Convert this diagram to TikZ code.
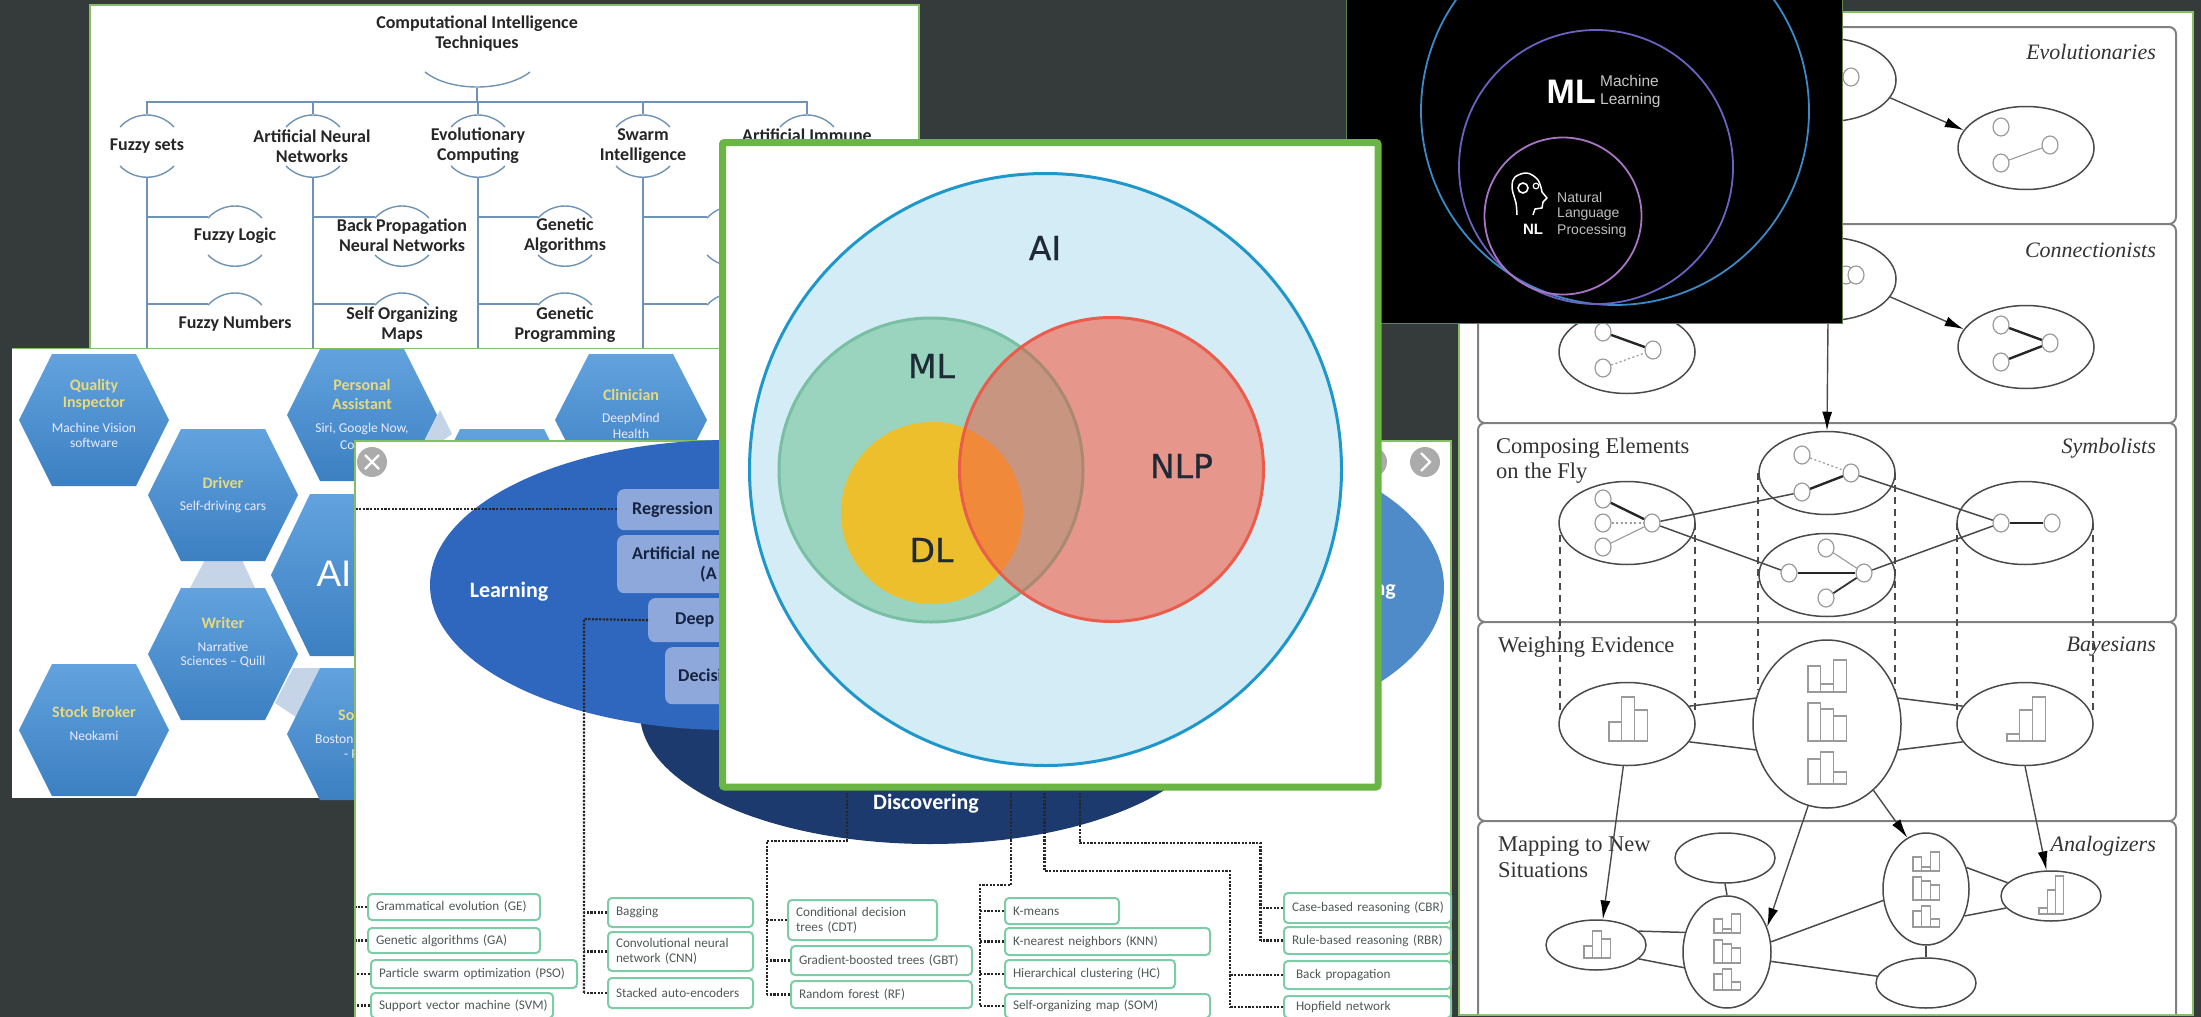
\documentclass[tikz,border=0pt]{standalone}
\usepackage{fontspec}
\usetikzlibrary{shapes.geometric,arrows.meta,calc}
\setmainfont{Carlito}
\newfontfamily\serf{Liberation Serif}
\newfontfamily\arl{Liberation Sans}
\newfontfamily\vfnt{DejaVu Sans}[RawFeature={embolden=0.6}]
\newcommand{\fsz}[1]{\fontsize{#1}{#1}\selectfont}
\definecolor{bgc}{HTML}{353A3A}
\definecolor{pgreen}{HTML}{86BE68}
\definecolor{sgreen}{HTML}{6BB544}
\definecolor{ciline}{HTML}{6E93B4}
\definecolor{hextop}{HTML}{62A2DE}
\definecolor{hexbot}{HTML}{3C80C2}
\definecolor{hexlink}{HTML}{C6D4E8}
\definecolor{hexy}{HTML}{E6D97E}
\definecolor{learn}{HTML}{2F67BF}
\definecolor{reason}{HTML}{4F8BC9}
\definecolor{disc}{HTML}{1C3A6E}
\definecolor{bbox}{HTML}{8EA8DC}
\definecolor{bbtxt}{HTML}{15233F}
\definecolor{gbox}{HTML}{7ECBA8}
\definecolor{gtxt}{HTML}{505858}
\definecolor{rln}{HTML}{4A4A4A}
\definecolor{rowln}{HTML}{808080}
\definecolor{circ}{HTML}{9A9A9A}
\definecolor{vtxt}{HTML}{1E2A35}
\definecolor{HTMLblue}{HTML}{3A8AC8}
\definecolor{HTMLpurple}{HTML}{6A62C0}
\definecolor{HTMLpink}{HTML}{A874C4}
\definecolor{HTMLvenn}{HTML}{D4ECF5}
\definecolor{HTMLvennb}{HTML}{1F97CB}
\definecolor{HTMLml}{HTML}{9AD4BF}
\definecolor{HTMLmlb}{HTML}{79BFA3}
\definecolor{HTMLdl}{HTML}{EDBF2C}
\definecolor{HTMLnlp}{HTML}{E7968C}
\definecolor{HTMLnlpb}{HTML}{EA5C4C}
\definecolor{HTMLmix}{HTML}{C79580}
\definecolor{HTMLmixb}{HTML}{A98A70}
\definecolor{HTMLorg}{HTML}{F08A3A}
\tikzset{
 panel/.style={fill=white,draw=pgreen,line width=2pt},
 cil/.style={draw=ciline,line width=1.4pt},
 citx/.style={font=\fsz{18}\bfseries,text=black!85,align=center,inner sep=0pt},
 hxh/.style={font=\fsz{16}\bfseries,text=hexy,align=center,inner sep=0pt},
 hxs/.style={font=\fsz{13.5},text=white!92!blue,align=center,inner sep=0pt},
 dsh/.style={draw=black!85,line width=2.2pt,dash pattern=on 2.2pt off 1.4pt},
 gboxst/.style={draw=gbox,line width=2pt,fill=white,rounded corners=4pt,font=\fsz{13.2},text=gtxt,align=left,inner sep=0pt,anchor=north west},
 bboxst/.style={fill=bbox,rounded corners=7pt,font=\fsz{18}\bfseries,text=bbtxt,align=left,inner sep=0pt,anchor=north west},
 rowb/.style={draw=rowln,line width=2pt,rounded corners=7pt,fill=white},
 ell/.style={ellipse,draw=rln,line width=1.5pt,inner sep=0pt,fill=white},
 sm/.style={ellipse,draw=circ,line width=1.2pt,fill=white,inner sep=0pt,minimum width=16pt,minimum height=18pt},
 rl/.style={draw=rln,line width=1.5pt},
 arw/.style={draw=rln,line width=1.4pt,-{Latex[length=19pt,width=10pt,color=black]}},
 dashv/.style={draw=rln,line width=1.3pt,dash pattern=on 7pt off 5pt},
 thick1/.style={draw=black!85,line width=2.4pt},
 thin1/.style={draw=circ,line width=1.1pt},
 dot1/.style={draw=circ,line width=1.2pt,dash pattern=on 2pt off 2.5pt},
 bar/.style={draw=circ,line width=1.1pt},
 rtl/.style={font=\serf\itshape\fsz{22},text=black!80,inner sep=0pt,anchor=east},
 ltl/.style={font=\serf\fsz{22.5},text=black!80,inner sep=0pt,anchor=west},
 vtx/.style={font=\vfnt\fsz{33},text=vtxt,inner sep=0pt},
 btn/.style={circle,fill=black!33,inner sep=0pt,minimum size=30pt},
}
% name x1 y1 x2 y2 text
\newcommand{\gbx}[6]{\pgfmathsetmacro\mw{#4-#2}\pgfmathsetmacro\mh{#5-#3}\pgfmathsetmacro\tw{#4-#2-16}
 \node[gboxst,minimum width=\mw pt,minimum height=\mh pt,text width=\tw pt] (#1) at (#2,#3) {#6};}
\newcommand{\bbx}[6]{\pgfmathsetmacro\mw{#4-#2}\pgfmathsetmacro\mh{#5-#3}\pgfmathsetmacro\tw{#4-#2-16}
 \node[bboxst,minimum width=\mw pt,minimum height=\mh pt,text width=\tw pt] (#1) at (#2,#3) {#6};}
% hexagon cx cy rx ry halftop
\newcommand{\hexa}[5]{\shade[top color=hextop,bottom color=hexbot] ({#1-#3},#2)--({#1-#5},{#2-#4})--({#1+#5},{#2-#4})--({#1+#3},#2)--({#1+#5},{#2+#4})--({#1-#5},{#2+#4})--cycle;}
% arc pair around a CI node: cx, topY
\newcommand{\citop}[2]{\draw[cil] ({#1-27},{#2+13}) .. controls ({#1-12},{#2-3}) and ({#1+12},{#2-3}) .. ({#1+27},{#2+13});}
\newcommand{\cibot}[2]{\draw[cil] ({#1-27},{#2-12}) .. controls ({#1-12},{#2+3}) and ({#1+12},{#2+3}) .. ({#1+27},{#2-12});}
% bars x0 w base h1 h2 h3
\newcommand{\bars}[6]{\draw[bar] (#1,#3) rectangle ({#1+#2},{#3-#4}) ({#1+#2},#3) rectangle ({#1+2*#2},{#3-#5}) ({#1+2*#2},#3) rectangle ({#1+3*#2},{#3-#6});}
\begin{document}
\begin{tikzpicture}[x=1pt,y=-1pt]
\useasboundingbox (0,0) rectangle (2201,1017);
\clip (0,0) rectangle (2201,1017);
\fill[bgc] (0,0) rectangle (2201,1017);
%% ------------------- CI panel
\draw[panel] (90,5) rectangle (919,360);
\node[citx] (citle) at (477,33.5) {Computational Intelligence\\[2pt]Techniques};
\draw[cil] (425,72) .. controls (450,92) and (504,92) .. (530,72);
\coordinate (cibr) at (477,88);
\coordinate (cihub) at (477,102);
\draw[cil] (cibr) -- (cihub);
\draw[cil] (147,114) -- (147,102) -- (807,102) -- (807,114);
\draw[cil] (313,102) -- (313,114) (478,102) -- (478,114) (643,102) -- (643,114);
\citop{147}{114}\cibot{147}{178}
\citop{313}{114}\cibot{313}{178}
\citop{478}{114}\cibot{478}{178}
\citop{643}{114}\cibot{643}{178}
\citop{807}{114}
\draw[cil] (147,178) -- (147,350) (313,178) -- (313,350) (478,178) -- (478,350) (643,178) -- (643,350);
\draw[cil] (147,217) -- (208,217) (147,304) -- (208,304);
\draw[cil] (313,217) -- (375,217) (313,304) -- (375,304);
\draw[cil] (478,217) -- (538,217) (478,304) -- (538,304);
\draw[cil] (643,217) -- (707,217) (643,304) -- (707,304);
\citop{235}{205}\cibot{235}{267}\citop{235}{292}
\citop{402}{205}\cibot{402}{267}\citop{402}{292}
\citop{565}{205}\cibot{565}{267}\citop{565}{292}
\citop{734}{205}\cibot{734}{267}\citop{734}{292}
\node[citx] (n1) at (147,146) {Fuzzy sets};
\node[citx] (n2) at (312,146) {Artificial Neural\\[2pt]Networks};
\node[citx] (n3) at (478,146) {Evolutionary\\[2pt]Computing};
\node[citx] (n4) at (643,146) {Swarm\\[2pt]Intelligence};
\node[citx,anchor=base] (n5) at (807,141) {Artificial Immune};
\node[citx] (n6) at (235,236) {Fuzzy Logic};
\node[citx] (n7) at (402,235.5) {Back Propagation\\[2pt]Neural Networks};
\node[citx] (n8) at (565,235.5) {Genetic\\[2pt]Algorithms};
\node[citx] (n9) at (235,324) {Fuzzy Numbers};
\node[citx] (n10) at (402,325) {Self Organizing\\[2pt]Maps};
\node[citx] (n11) at (565,325) {Genetic\\[2pt]Programming};
%% ------------------- hexagons panel
\fill[white] (12,348) rectangle (725,798);
\draw[pgreen,line width=1pt] (12,348) -- (725,348);
\fill[hexlink] (205,560) -- (242,560) -- (256,590) -- (189,590) -- cycle;
\fill[hexlink] (293,668) -- (321,668) -- (296,717) -- (275,703) -- cycle;
\fill[hexlink] (440,410) -- (452,434) -- (430,450) -- (425,440) -- cycle;
\hexa{94}{420}{75}{66}{42}
\hexa{223}{495}{75}{66}{42}
\hexa{223}{654}{75}{66}{42}
\hexa{94}{730}{75}{66}{42}
\hexa{362}{415}{75}{66}{42}
\hexa{631}{420}{76}{66}{42}
\hexa{502}{495}{75}{66}{42}
\hexa{362}{575}{91}{81}{52}
\hexa{362}{734}{75}{66}{42}
\node[hxh] (q1) at (94,386) {Quality};
\node[hxh] (q2) at (94,404) {Inspector};
\node[hxs] (q3) at (94,428) {Machine Vision};
\node[hxs] (q4) at (94,443) {software};
\node[hxh] (p1) at (362,385) {Personal};
\node[hxh] (p2) at (362,404) {Assistant};
\node[hxs] (p3) at (362,429) {Siri, Google Now,};
\node[hxs,anchor=west] (p4) at (340,445) {Co};
\node[hxh] (d1) at (223,483) {Driver};
\node[hxs] (d2) at (223,507) {Self-driving cars};
\node[hxh] (w1) at (223,623) {Writer};
\node[hxs] (w2) at (223,647) {Narrative};
\node[hxs] (w3) at (223,662) {Sciences – Quill};
\node[hxh] (st1) at (94,712) {Stock Broker};
\node[hxs] (st2) at (94,736) {Neokami};
\node[hxh] (c1) at (631,395) {Clinician};
\node[hxs] (c2) at (631,419) {DeepMind};
\node[hxs] (c3) at (631,434) {Health};
\node[font=\arl\fsz{37},text=white,inner sep=0pt] (aihex) at (334,574) {AI};
\node[hxh,anchor=west] (so1) at (338,715) {So};
\node[hxs,anchor=west] (so2) at (315,739) {Boston};
\node[hxs,anchor=west] (so3) at (344,754) {- P};
%% ------------------- right panel
\fill[white] (1459,12) rectangle (2193,1015);
\draw[pgreen,line width=2pt] (1459,1015) -- (1459,12) -- (2193,12) -- (2193,1015) -- cycle;
\draw[rowb] (1478,27) rectangle (2176,224);
\draw[rowb] (1478,224) rectangle (2176,423);
\draw[rowb] (1478,423) rectangle (2176,622);
\draw[rowb] (1478,622) rectangle (2176,821);
\draw[rowb] (1478,1014) -- (1478,821) -- (2176,821) -- (2176,1014);
\node[rtl] (t1) at (2156,52) {Evolutionaries};
\node[rtl] (t2) at (2156,250) {Connectionists};
\node[rtl] (t3) at (2156,448) {Symbolists};
\node[rtl] (t4) at (2156,647) {Bayesians};
\node[rtl] (t5) at (2156,846) {Analogizers};
\node[ltl] (l1) at (1496,448) {Composing Elements};
\node[ltl] (l2) at (1496,473) {on the Fly};
\node[ltl] (l3) at (1498,647) {Weighing Evidence};
\node[ltl] (l4) at (1498,846) {Mapping to New};
\node[ltl] (l5) at (1498,870) {Situations};
% dashed verticals go first
\tikzset{std/.style={ell,minimum width=136pt,minimum height=83pt}}
\coordinate (dl1a) at (1560,523);\coordinate (dl1b) at (1560,712);
\coordinate (dl2a) at (1695,523);\coordinate (dl2b) at (1695,712);
\coordinate (dl3a) at (1758,473);\coordinate (dl3b) at (1758,690);
\coordinate (dl4a) at (1895,473);\coordinate (dl4b) at (1895,690);
\coordinate (dl5a) at (1957,523);\coordinate (dl5b) at (1957,712);
\coordinate (dl6a) at (2093,523);\coordinate (dl6b) at (2093,712);
\foreach \k in {1,...,6} {\draw[dashv] (dl\k a) -- (dl\k b);}
% row 1
\node[std] (e1a) at (1828,80) {};
\node[std] (e1b) at (2026,148) {};
\node[sm] (s1) at (1851,77) {};
\node[sm] (s2) at (2001,127) {};
\node[sm] (s3) at (2050,145) {};
\node[sm] (s4) at (2001,163) {};
\draw[thin1] (s3) -- (s4);
\draw[arw] (e1a.-16) -- (e1b.164);
% row 2
\node[std] (e2a) at (1828,279) {};
\node[std] (e2b) at (2026,347) {};
\node[std] (e2c) at (1627,352) {};
\node[sm] (s5) at (1846,275) {};
\node[sm] (s6) at (1856,275) {};
\node[sm] (s7) at (2001,325) {};
\node[sm] (s8) at (2050,343) {};
\node[sm] (s9) at (2001,362) {};
\draw[thick1] (s7) -- (s8);
\draw[thick1] (s9) -- (s8);
\node[sm] (s10) at (1603,332) {};
\node[sm] (s11) at (1653,350) {};
\node[sm] (s12) at (1603,368) {};
\draw[thick1] (s10) -- (s11);
\draw[dot1] (s12) -- (s11);
\draw[arw] (e2a.-16) -- (e2b.164);
% row 3
\node[std] (e3a) at (1827,473) {};
\node[std] (e3b) at (1627,523) {};
\node[std] (e3c) at (2025,523) {};
\node[std] (e3d) at (1827,575) {};
\draw[arw] (e2a.south) -- (e3a.north);
\node[sm] (a1) at (1802,455) {};
\node[sm] (a2) at (1851,473) {};
\node[sm] (a3) at (1802,492) {};
\draw[dot1] (a1) -- (a2);
\draw[thick1] (a3) -- (a2);
\node[sm] (b1) at (1603,499) {};
\node[sm] (b2) at (1603,523) {};
\node[sm] (b3) at (1603,547) {};
\node[sm] (b4) at (1652,523) {};
\draw[thick1] (b1) -- (b4);
\draw[dot1] (b2) -- (b4);
\draw[thin1] (b3) -- (b4);
\node[sm] (c1a) at (2001,523) {};
\node[sm] (c2a) at (2052,523) {};
\draw[thick1] (c1a) -- (c2a);
\node[sm] (d1a) at (1826,548) {};
\node[sm] (d2a) at (1789,573) {};
\node[sm] (d3a) at (1864,573) {};
\node[sm] (d4a) at (1826,598) {};
\draw[thick1] (d2a) -- (d3a);
\draw[thin1] (d1a) -- (d3a);
\draw[draw=black!80,line width=1.8pt] (d4a) -- (d3a);
\draw[rl] (b4) -- (a3);
\draw[rl] (b4) -- (d2a);
\draw[rl] (c1a) -- (a2);
\draw[rl] (c1a) -- (d3a);
% row 4
\node[std] (e4a) at (1627,724) {};
\node[ell,minimum width=148pt,minimum height=168pt] (e4b) at (1827,724) {};
\node[std] (e4c) at (2025,724) {};
\draw[rl] (e4a.16) -- (e4b.160);
\draw[rl] (e4a.-16) -- (e4b.-160);
\draw[rl] (e4c.164) -- (e4b.20);
\draw[rl] (e4c.-164) -- (e4b.-20);
\bars{1609}{12.7}{741}{19}{44}{31}
\bars{2007}{12.7}{741}{7}{31}{44}
\bars{1808}{12.7}{692}{26}{8}{32}
\bars{1808}{12.7}{741}{38}{32}{25}
\bars{1808}{12.7}{784}{25}{32}{12}
% row 5
\tikzset{smb/.style={ell,minimum width=100pt,minimum height=50pt}}
\node[smb] (f1) at (1725,858) {};
\node[smb] (f2) at (1596,945) {};
\node[ell,minimum width=88pt,minimum height=112pt] (f3) at (1727,952) {};
\node[ell,minimum width=86pt,minimum height=112pt] (f4) at (1926,889) {};
\node[smb] (f5) at (1926,983) {};
\node[smb] (f6) at (2051,896) {};
\draw[rl] (f1.south) -- (f3.north);
\draw[rl] (f4.south) -- (f5.north);
\draw[rl] (f2.18) -- (f3.155);
\draw[rl] (f2.-18) -- (f3.-160);
\draw[rl] (f3.13) -- (f4.-165);
\draw[rl] (f3.-12) -- (f5.172);
\draw[rl] (f4.28) -- (f6.163);
\draw[rl] (f4.-35) -- (f6.-165);
\bars{1584}{8.8}{958}{12}{27}{19}
\bars{1714}{8.8}{933}{14}{4}{19}
\bars{1714}{8.8}{963}{23}{19}{15}
\bars{1714}{8.8}{990}{16}{21}{8}
\bars{1913}{8.8}{871}{14}{4}{19}
\bars{1913}{8.8}{900}{23}{19}{15}
\bars{1913}{8.8}{927}{16}{21}{8}
\bars{2039}{8.3}{914}{6}{24}{38}
\draw[arw] (e4a.-95) -- (f2.75);
\draw[arw] (e4b.-103) -- (f3.32);
\draw[arw] (e4b.-55) -- (f4.110);
\draw[arw] (e4c.-90) -- (f6.100);
%% ------------------- Discovering panel
\fill[white] (355,441) rectangle (1451,1018);
\draw[pgreen,line width=2pt] (355,1018) -- (355,441) -- (1451,441) -- (1451,1018);
\node[ellipse,fill=disc,inner sep=0pt,minimum width=580pt,minimum height=262pt] (discE) at (930,713) {};
\node[ellipse,fill=reason,inner sep=0pt,minimum width=520pt,minimum height=290pt] (reasE) at (1184,587) {};
\node[ellipse,fill=learn,inner sep=0pt,minimum width=600pt,minimum height=290pt] (learnE) at (730,585) {};
\node[font=\fsz{22}\bfseries,text=white,inner sep=0pt] (learnT) at (509,592) {Learning};
\node[font=\fsz{22}\bfseries,text=white,inner sep=0pt,anchor=east] (reasT) at (1396,592) {ng};
\node[font=\fsz{22}\bfseries,text=white,inner sep=0pt] (discT) at (926,804) {Discovering};
\node[btn] (btnL) at (372,462) {};
\node[btn] (btnR) at (1425,462) {};
\node[btn] (btnM) at (1372,462) {};
\draw[white,line width=2.4pt] (365,455) -- (379,469) (379,455) -- (365,469);
\draw[white,line width=2.4pt] (1421,453) -- (1430,462) -- (1421,471);
% blue boxes
\bbx{bb1}{617}{489}{1000}{530}{\hspace*{7pt}Regression a}
\bbx{bb2}{617}{535}{1000}{593}{\hspace*{7pt}Artificial ne\\[2pt]\hspace*{75pt}(A}
\bbx{bb3}{648}{598}{1000}{642}{\hspace*{19pt}Deep}
\bbx{bb4}{665}{647}{1000}{704}{\hspace*{5pt}Decisi}
% green boxes
\gbx{g1}{367}{893}{539}{919}{Grammatical evolution (GE)}
\gbx{g2}{367}{927}{539}{952}{Genetic algorithms (GA)}
\gbx{g3}{370}{959}{576}{987}{Particle swarm optimization (PSO)}
\gbx{g4}{370}{992}{552}{1017}{\mbox{Support vector machine (SVM)}}
\gbx{g5}{607}{897}{752}{926}{Bagging}
\gbx{g6}{607}{931}{752}{970}{Convolutional neural\\[2pt]network (CNN)}
\gbx{g7}{607}{977}{752}{1007}{Stacked auto-encoders}
\gbx{g8}{787}{899}{936}{939}{Conditional decision\\[2pt]trees (CDT)}
\gbx{g9}{790}{945}{971}{974}{Gradient-boosted trees (GBT)}
\gbx{g10}{790}{980}{971}{1007}{Random forest (RF)}
\gbx{g11}{1004}{897}{1118}{923}{K-means}
\gbx{g12}{1004}{927}{1209}{954}{K-nearest neighbors (KNN)}
\gbx{g13}{1004}{959}{1174}{987}{Hierarchical clustering (HC)}
\gbx{g14}{1004}{993}{1209}{1017}{Self-organizing map (SOM)}
\gbx{g15}{1283}{892}{1450}{922}{\mbox{Case-based reasoning (CBR)}}
\gbx{g16}{1283}{926}{1450}{953}{\mbox{Rule-based reasoning (RBR)}}
\gbx{g17}{1283}{960}{1450}{988}{\hspace*{4pt}Back propagation}
\gbx{g18}{1283}{995}{1450}{1017}{\hspace*{4pt}Hopfield network}
% dashed connectors
\coordinate (panelW) at (356,509);
\draw[dsh] (bb1.west |- panelW) -- (panelW);
\coordinate (tr1) at (584,619);
\draw[dsh] (bb3.west) -- (tr1) -- (tr1 |- g7.west);
\foreach \b in {g5,g6,g7} {\draw[dsh] (\b.west) -- (\b.west -| tr1);}
\coordinate (edgeW) at (356,900);
\foreach \b in {g1,g2,g3,g4} {\draw[dsh] (\b.west) -- (\b.west -| edgeW);}
\coordinate (src1) at (847,789);\coordinate (bend1) at (847,841);\coordinate (tr2) at (767,841);
\draw[dsh] (src1) -- (bend1) -- (tr2) -- (tr2 |- g10.west);
\foreach \b in {g8,g9,g10} {\draw[dsh] (\b.west) -- (\b.west -| tr2);}
\coordinate (src2) at (1011,789);\coordinate (bend2) at (1011,885);\coordinate (tr3) at (980,885);
\draw[dsh] (src2) -- (bend2) -- (tr3) -- (tr3 |- g14.west);
\foreach \b in {g11,g12,g13,g14} {\draw[dsh] (\b.west) -- (\b.west -| tr3);}
\coordinate (src3) at (1044.5,789);\coordinate (bend3) at (1044.5,871);\coordinate (tr4) at (1230,871);
\draw[dsh] (src3) -- (bend3) -- (tr4) -- (tr4 |- g18.west);
\foreach \b in {g17,g18} {\draw[dsh] (\b.west) -- (\b.west -| tr4);}
\coordinate (src4) at (1079.6,789);\coordinate (bend4) at (1079.6,843);\coordinate (tr5) at (1260.5,843);
\draw[dsh] (src4) -- (bend4) -- (tr5) -- (tr5 |- g16.west);
\foreach \b in {g15,g16} {\draw[dsh] (\b.west) -- (\b.west -| tr5);}
%% ------------------- black panel
\fill[black] (1346,-2) rectangle (1842,323);
\draw[pgreen!70!black,line width=1pt] (1346,0) -- (1346,323) -- (1842,323) -- (1842,0);
\node[circle,draw=HTMLblue,line width=1.8pt,inner sep=0pt,minimum size=388pt] (aiC) at (1615,111) {};
\node[circle,draw=HTMLpurple,line width=1.8pt,inner sep=0pt,minimum size=274pt] (mlC) at (1596,167) {};
\node[circle,draw=HTMLpink,line width=1.8pt,inner sep=0pt,minimum size=157pt] (nlC) at (1563,216) {};
\node[font=\arl\bfseries\fsz{34},text=white,inner sep=0pt,anchor=east] (mlT) at (1596,92) {ML};
\node[font=\arl\fsz{15.5},text=black!22,inner sep=0pt,anchor=west] (mlM) at (1600,81) {Machine};
\node[font=\arl\fsz{15.5},text=black!22,inner sep=0pt,anchor=west] (mlL) at (1600,100) {Learning};
\node[font=\arl\bfseries\fsz{15},text=white,inner sep=0pt] (nlT) at (1533,229) {NL};
\node[font=\arl\fsz{14},text=black!25,inner sep=0pt,anchor=west] (nl1) at (1557,197) {Natural};
\node[font=\arl\fsz{14},text=black!25,inner sep=0pt,anchor=west] (nl2) at (1557,214) {Language};
\node[font=\arl\fsz{14},text=black!25,inner sep=0pt,anchor=west] (nl3) at (1557,231) {Processing};
\draw[white,line width=1.5pt,line join=round] plot[smooth,tension=0.6] coordinates {(1517,215) (1516,203) (1513,193) (1512,185) (1515,177) (1527,173) (1538,180) (1542,192)} -- (1547,198) -- (1543,202) -- (1542,208) -- (1535,209) -- (1533,215);
\draw[white,line width=1.6pt] (1523,188) circle (5);
\draw[white,line width=1.2pt] (1536,186) circle (2.8);
%% ------------------- central venn panel
\draw[fill=white,draw=sgreen,line width=7pt,rounded corners=2pt] (722.5,142.5) rectangle (1378,787);
\node[circle,fill=HTMLvenn,draw=HTMLvennb,line width=3pt,inner sep=0pt,minimum size=592pt] (vAI) at (1045.5,469.5) {};
\node[circle,fill=HTMLml,draw=HTMLmlb,line width=3pt,inner sep=0pt,minimum size=304pt] (vML) at (931,470) {};
\node[circle,fill=HTMLdl,inner sep=0pt,minimum size=182pt] (vDL) at (932,513) {};
\node[circle,fill=HTMLnlp,inner sep=0pt,minimum size=304pt] (vNLP) at (1111.5,469.5) {};
\begin{scope}
\clip (vNLP.center) circle (152);
\fill[HTMLmix] (vML.center) circle (152);
\fill[HTMLorg] (vDL.center) circle (91);
\draw[HTMLmixb,line width=3pt] (vML.center) circle (152);
\end{scope}
\draw[HTMLnlpb,line width=3pt] (vNLP.center) circle (152);
\node[vtx] (tAI) at (1045,248) {AI};
\node[vtx] (tML) at (931.5,366) {ML};
\node[vtx] (tDL) at (931.5,550) {DL};
\node[vtx] (tNLP) at (1181.5,466) {NLP};
\end{tikzpicture}
\end{document}
